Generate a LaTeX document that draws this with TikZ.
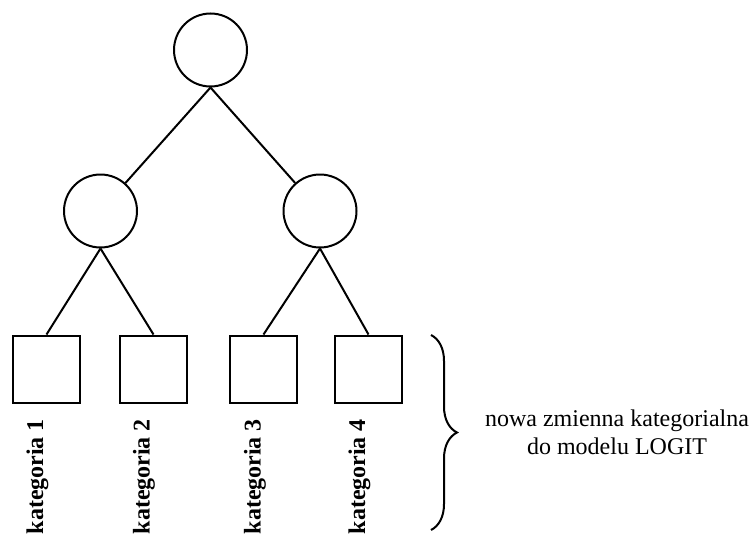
\documentclass[tikz,border=0pt]{standalone}
\usepackage{fontspec}
\setmainfont{Liberation Serif}
\usetikzlibrary{decorations.pathreplacing}
\begin{document}
\begin{tikzpicture}[x=0.5pt, y=-0.5pt, line width=1pt,
	font=\fontsize{12}{13.8}\selectfont,
	wezel/.style={draw, circle, minimum size=36.5pt, inner sep=0pt},
	kat/.style={draw, minimum size=33.5pt, inner sep=0pt},
	etyk/.style={rotate=90, anchor=east, inner sep=0pt, font=\fontsize{12}{13.8}\selectfont\bfseries}]
		\useasboundingbox (0,0) rectangle (753,535);
		
		\node[wezel] (0) at (210.5,50) {};
		
		\node[wezel] (1) at (100.5,211) {};
		\node[wezel] (2) at (320,211) {};
		
		\node[kat] (3) at (46.5,369) {};
		\node[kat] (4) at (153.5,369) {};
		\node[kat] (5) at (263.5,369) {};
		\node[kat] (6) at (368.5,369) {};
		
		\node[etyk] (k3) at (37.5,418) {kategoria 1};
		\node[etyk] (k4) at (144,418) {kategoria 2};
		\node[etyk] (k5) at (255,418) {kategoria 3};
		\node[etyk] (k6) at (359.5,418) {kategoria 4};
		
		\node[align=center] (opis) at (617,432) {nowa zmienna kategorialna\\do modelu LOGIT};
		
		\draw[-] (0.south) to (1);
		\draw[-] (0.south) to (2);
		\draw[-] (1.south) to (3.north);
		\draw[-] (1.south) to (4.north);
		\draw[-] (2.south) to (5.north);
		\draw[-] (2.south) to (6.north);
		
		% klamra
		\draw[decorate, decoration={brace, amplitude=13pt}] (431,335) -- (431,530);
	\end{tikzpicture}
\end{document}
